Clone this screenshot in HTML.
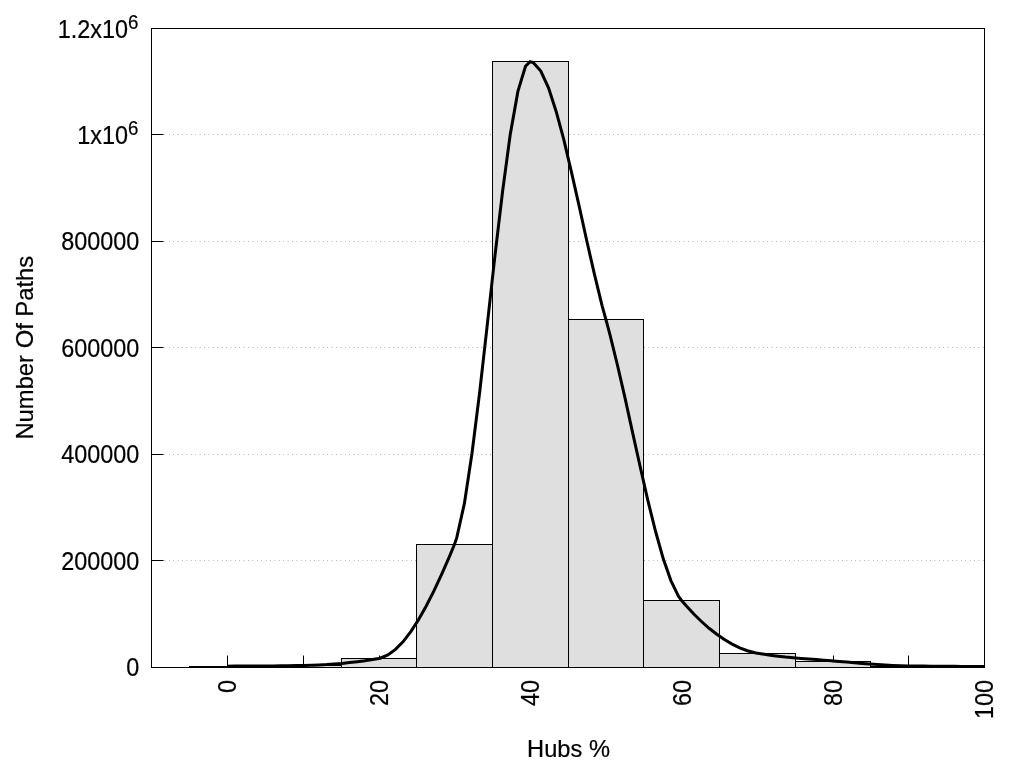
<!DOCTYPE html>
<html><head><meta charset="utf-8"><title>Hubs %</title>
<style>
html,body{margin:0;padding:0;background:#fff;}
body{width:1024px;height:768px;overflow:hidden;}
svg{display:block;}
text{font-family:"Liberation Sans",Arial,sans-serif;font-size:24px;fill:#000;stroke:#000;stroke-width:0.2px;}
</style></head><body>
<svg width="1024" height="768" viewBox="0 0 1024 768">
<rect x="0" y="0" width="1024" height="768" fill="#fff"/>

<line x1="151.2" y1="560.5" x2="984" y2="560.5" stroke="#999" stroke-width="1" stroke-dasharray="0.7 3.7" stroke-dashoffset="-0.15"/>
<line x1="151.2" y1="454.5" x2="984" y2="454.5" stroke="#999" stroke-width="1" stroke-dasharray="0.7 3.7" stroke-dashoffset="-0.15"/>
<line x1="151.2" y1="347.5" x2="984" y2="347.5" stroke="#999" stroke-width="1" stroke-dasharray="0.7 3.7" stroke-dashoffset="-0.15"/>
<line x1="151.2" y1="241.5" x2="984" y2="241.5" stroke="#999" stroke-width="1" stroke-dasharray="0.7 3.7" stroke-dashoffset="-0.15"/>
<line x1="151.2" y1="134.5" x2="984" y2="134.5" stroke="#999" stroke-width="1" stroke-dasharray="0.7 3.7" stroke-dashoffset="-0.15"/>
<line x1="227.5" y1="667.5" x2="227.5" y2="655.5" stroke="#000" stroke-width="1"/>
<line x1="303.5" y1="667.5" x2="303.5" y2="655.5" stroke="#000" stroke-width="1"/>
<line x1="379.5" y1="667.5" x2="379.5" y2="655.5" stroke="#000" stroke-width="1"/>
<line x1="454.5" y1="667.5" x2="454.5" y2="655.5" stroke="#000" stroke-width="1"/>
<line x1="530.5" y1="667.5" x2="530.5" y2="655.5" stroke="#000" stroke-width="1"/>
<line x1="606.5" y1="667.5" x2="606.5" y2="655.5" stroke="#000" stroke-width="1"/>
<line x1="682.5" y1="667.5" x2="682.5" y2="655.5" stroke="#000" stroke-width="1"/>
<line x1="757.5" y1="667.5" x2="757.5" y2="655.5" stroke="#000" stroke-width="1"/>
<line x1="833.5" y1="667.5" x2="833.5" y2="655.5" stroke="#000" stroke-width="1"/>
<line x1="908.5" y1="667.5" x2="908.5" y2="655.5" stroke="#000" stroke-width="1"/>
<line x1="984.5" y1="667.5" x2="984.5" y2="655.5" stroke="#000" stroke-width="1"/>
<rect x="189.5" y="666.5" width="76.0" height="1.0" fill="#dfdfdf" stroke="#000" stroke-width="1"/>
<rect x="265.5" y="665.5" width="76.0" height="2.0" fill="#dfdfdf" stroke="#000" stroke-width="1"/>
<rect x="341.5" y="658.5" width="75.0" height="9.0" fill="#dfdfdf" stroke="#000" stroke-width="1"/>
<rect x="416.5" y="544.5" width="76.0" height="123.0" fill="#dfdfdf" stroke="#000" stroke-width="1"/>
<rect x="492.5" y="61.5" width="76.0" height="606.0" fill="#dfdfdf" stroke="#000" stroke-width="1"/>
<rect x="568.5" y="319.5" width="75.0" height="348.0" fill="#dfdfdf" stroke="#000" stroke-width="1"/>
<rect x="643.5" y="600.5" width="76.0" height="67.0" fill="#dfdfdf" stroke="#000" stroke-width="1"/>
<rect x="719.5" y="653.5" width="76.0" height="14.0" fill="#dfdfdf" stroke="#000" stroke-width="1"/>
<rect x="795.5" y="661.5" width="75.0" height="6.0" fill="#dfdfdf" stroke="#000" stroke-width="1"/>
<rect x="870.5" y="666.5" width="76.0" height="1.0" fill="#dfdfdf" stroke="#000" stroke-width="1"/>
<rect x="946.5" y="666.5" width="38.0" height="1.0" fill="#dfdfdf" stroke="#000" stroke-width="1"/>
<line x1="151.5" y1="560.5" x2="163.5" y2="560.5" stroke="#000" stroke-width="1"/>
<line x1="151.5" y1="454.5" x2="163.5" y2="454.5" stroke="#000" stroke-width="1"/>
<line x1="151.5" y1="347.5" x2="163.5" y2="347.5" stroke="#000" stroke-width="1"/>
<line x1="151.5" y1="241.5" x2="163.5" y2="241.5" stroke="#000" stroke-width="1"/>
<line x1="151.5" y1="134.5" x2="163.5" y2="134.5" stroke="#000" stroke-width="1"/>
<rect x="151.5" y="28.5" width="833.0" height="639.0" fill="none" stroke="#000" stroke-width="1"/>
<polyline points="227.2,666.2 234.9,666.1 242.5,666.1 250.2,666.0 257.8,666.0 265.5,665.9 273.1,665.9 280.8,665.8 288.4,665.7 296.1,665.6 303.0,665.5 303.7,665.5 311.4,665.3 319.0,665.0 326.7,664.6 334.3,664.0 342.0,663.4 349.6,662.6 357.3,661.7 364.9,660.7 372.6,659.5 378.7,658.5 380.2,658.2 387.9,655.0 395.5,649.4 403.2,641.6 410.8,631.6 418.5,619.8 426.1,606.3 433.8,591.2 441.4,574.8 449.1,557.3 454.4,544.5 456.7,537.9 464.4,503.4 472.0,453.2 479.7,392.0 487.3,324.7 494.9,256.2 502.6,191.3 510.2,134.7 517.9,91.4 525.5,66.2 530.1,61.7 533.2,62.5 540.8,71.1 548.5,87.8 556.1,111.2 563.8,139.7 571.4,171.8 579.1,205.9 586.7,240.5 594.4,274.2 602.0,305.3 605.9,319.5 609.7,333.6 617.3,364.5 625.0,397.9 632.6,432.6 640.3,467.3 647.9,500.7 655.6,531.5 663.2,558.6 670.9,580.6 678.5,596.3 681.6,600.5 686.2,605.8 693.8,614.0 701.5,621.5 709.1,628.3 716.8,634.3 724.4,639.6 732.1,644.1 739.7,647.8 747.4,650.7 755.0,652.8 757.3,653.2 762.7,654.1 770.3,655.2 778.0,656.2 785.6,657.1 793.3,657.8 800.9,658.4 808.6,659.0 816.2,659.6 823.9,660.2 831.5,660.8 833.0,660.9 839.2,661.4 846.8,662.1 854.5,662.7 862.1,663.4 869.8,664.0 877.4,664.6 885.1,665.1 892.7,665.5 900.4,665.8 908.0,666.0 908.8,666.0 915.7,666.1 923.3,666.1 931.0,666.2 938.6,666.3 946.3,666.3 953.9,666.3 961.6,666.4 969.2,666.4 976.9,666.5 984.5,666.5" fill="none" stroke="#000" stroke-width="3" stroke-linejoin="miter" stroke-linecap="butt"/>
<text transform="translate(139.2,675.6) scale(0.975,1.05)" text-anchor="end">0</text>
<text transform="translate(139.2,569.6) scale(0.975,1.05)" text-anchor="end">200000</text>
<text transform="translate(139.2,462.6) scale(0.975,1.05)" text-anchor="end">400000</text>
<text transform="translate(139.2,356.6) scale(0.975,1.05)" text-anchor="end">600000</text>
<text transform="translate(139.2,249.6) scale(0.975,1.05)" text-anchor="end">800000</text>
<text transform="translate(138.4,143.8) scale(0.975,1.05)" text-anchor="end">1x10<tspan font-size="19.2px" dy="-8.6">6</tspan></text>
<text transform="translate(138.4,37.8) scale(0.975,1.05)" text-anchor="end">1.2x10<tspan font-size="19.2px" dy="-8.6">6</tspan></text>
<text transform="translate(236.1,680.0) rotate(-90) scale(0.975,1.05)" text-anchor="end">0</text>
<text transform="translate(388.1,680.0) rotate(-90) scale(0.975,1.05)" text-anchor="end">20</text>
<text transform="translate(539.1,680.0) rotate(-90) scale(0.975,1.05)" text-anchor="end">40</text>
<text transform="translate(691.1,680.0) rotate(-90) scale(0.975,1.05)" text-anchor="end">60</text>
<text transform="translate(842.1,680.0) rotate(-90) scale(0.975,1.05)" text-anchor="end">80</text>
<text transform="translate(993.1,680.0) rotate(-90) scale(0.975,1.05)" text-anchor="end">100</text>
<text transform="translate(568.5,756.5) scale(0.986,1.02)" text-anchor="middle">Hubs %</text>
<text transform="translate(32.5,347.7) rotate(-90) scale(0.992,1.02)" text-anchor="middle">Number Of Paths</text>
</svg></body></html>
